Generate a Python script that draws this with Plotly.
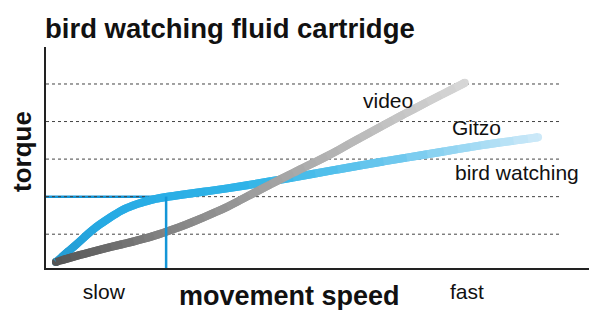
import plotly.graph_objects as go

# ---- data (speed 0..100, torque in grid units) ----
speed_video = [1.8, 6.2, 11.8, 17.8, 22.7, 26.7, 32.9, 38.8, 44.8, 51.0, 57.0, 63.0, 69.2, 76.0]
torque_video = [0.26, 0.45, 0.66, 0.88, 1.11, 1.33, 1.73, 2.18, 2.63, 3.08, 3.56, 4.04, 4.52, 5.03]

speed_bird = [1.8, 5.6, 8.7, 11.8, 14.7, 17.8, 21.8, 32.9, 44.8, 57.0, 69.2, 77.0, 82.4, 89.3]
torque_bird = [0.26, 0.74, 1.14, 1.46, 1.70, 1.86, 1.99, 2.22, 2.51, 2.83, 3.13, 3.32, 3.44, 3.58]

grid_levels = [1, 2, 3, 4, 5]
grid_end_speed = 93.3
tick_vals = [10.5, 76.4]
tick_text = ["slow", "fast"]
ref_speed = 21.8
ref_torque = 2.0

labels = ["video", "Gitzo", "bird watching"]
label_speed = [62.0, 78.2, 85.5]
label_torque = [4.55, 3.83, 2.63]

gray_stops = [(0.0, (85, 85, 85)), (0.25, (128, 128, 128)), (0.58, (168, 168, 168)), (1.0, (215, 215, 215))]
blue_stops = [(0.0, (35, 155, 210)), (0.1, (38, 170, 228)), (0.4, (48, 180, 232)),
              (0.7, (110, 200, 238)), (1.0, (205, 233, 248))]

# page body has an 8px margin: shift the figure so the plot lands where the reference has it
OFF = 8
W, H = 597 - OFF, 310 - OFF
LINE_W = 8


def grad(stops, t):
    t = min(max(t, 0.0), 1.0)
    for (t0, c0), (t1, c1) in zip(stops[:-1], stops[1:]):
        if t <= t1:
            f = 0 if t1 == t0 else (t - t0) / (t1 - t0)
            c = [round(a + (b - a) * f) for a, b in zip(c0, c1)]
            return "rgb(%d,%d,%d)" % tuple(c)
    return "rgb(%d,%d,%d)" % stops[-1][1]


def lerp(a, b, t):
    return (a[0] + (b[0] - a[0]) * t, a[1] + (b[1] - a[1]) * t)


def split(bz, t):
    p0, p1, p2, p3 = bz
    a, b, c = lerp(p0, p1, t), lerp(p1, p2, t), lerp(p2, p3, t)
    d, e = lerp(a, b, t), lerp(b, c, t)
    f = lerp(d, e, t)
    return (p0, a, d, f), (f, e, c, p3)


def curve_pieces(xs, ys, k=3):
    """Catmull-Rom through the data points, as cubic Bezier pieces."""
    P = list(zip(xs, ys))
    n = len(P)
    pieces = []
    for i in range(n - 1):
        p0 = P[i - 1] if i > 0 else P[i]
        p1, p2 = P[i], P[i + 1]
        p3 = P[i + 2] if i + 2 < n else P[i + 1]
        c1 = (p1[0] + (p2[0] - p0[0]) / 6, p1[1] + (p2[1] - p0[1]) / 6)
        c2 = (p2[0] - (p3[0] - p1[0]) / 6, p2[1] - (p3[1] - p1[1]) / 6)
        rest = (p1, c1, c2, p2)
        for j in range(k - 1):
            left, rest = split(rest, 1.0 / (k - j))
            pieces.append(left)
        pieces.append(rest)
    return pieces


def gradient_shapes(xs, ys, stops):
    pieces = curve_pieces(xs, ys)
    x0, x1 = xs[0], xs[-1]
    out = []
    fmt = lambda p: "%.4f,%.4f" % p
    for m, bz in enumerate(pieces):
        path = "M " + fmt(bz[0]) + " C " + " ".join(fmt(p) for p in bz[1:])
        if m + 1 < len(pieces):  # overlap into next piece to hide seams
            nb = pieces[m + 1]
            path += " C " + " ".join(fmt(p) for p in nb[1:])
        t = ((bz[0][0] + bz[3][0]) / 2 - x0) / (x1 - x0)
        out.append(dict(type="path", xref="x", yref="y", path=path,
                        line=dict(color=grad(stops, t), width=LINE_W), layer="above"))
    return out


fig = go.Figure()
# round end caps at the first and last data points
for xs, ys, stops in [(speed_bird, torque_bird, blue_stops), (speed_video, torque_video, gray_stops)]:
    fig.add_trace(go.Scatter(x=[xs[0], xs[-1]], y=[ys[0], ys[-1]], mode="markers",
                             marker=dict(size=LINE_W, color=[grad(stops, 0), grad(stops, 1)]),
                             hoverinfo="skip", showlegend=False))

shapes = []
shapes.append(dict(type="line", xref="x", yref="y", x0=0, x1=ref_speed, y0=ref_torque, y1=ref_torque,
                   line=dict(color="rgb(20,150,215)", width=2.5), layer="below"))
for g in grid_levels:
    shapes.append(dict(type="line", xref="x", yref="y", x0=0, x1=grid_end_speed, y0=g, y1=g,
                       line=dict(color="#444444", width=1, dash="3px,3px"), layer="below"))
shapes += gradient_shapes(speed_bird, torque_bird, blue_stops)
shapes += gradient_shapes(speed_video, torque_video, gray_stops)
shapes.append(dict(type="line", xref="x", yref="y", x0=ref_speed, x1=ref_speed, y0=0.1, y1=ref_torque,
                   line=dict(color="rgb(20,150,215)", width=2.5), layer="above"))

annotations = []
for t, xv, yv in zip(labels, label_speed, label_torque):
    annotations.append(dict(text=t, x=xv, y=yv, xref="x", yref="y", showarrow=False,
                            font=dict(size=21, color="#111111")))
annotations.append(dict(text="<b>movement speed</b>", x=(289 - 46) / 551, y=(268 - 296) / 221,
                        xref="paper", yref="paper", showarrow=False, xanchor="center", yanchor="middle",
                        font=dict(size=27, color="#111111")))
annotations.append(dict(text="<b>torque</b>", x=(22 - 46) / 551, y=(268 - 152) / 221,
                        xref="paper", yref="paper", showarrow=False, xanchor="center", yanchor="middle",
                        textangle=-90, font=dict(size=26, color="#111111")))

fig.update_layout(
    width=W, height=H,
    margin=dict(l=46 - OFF, r=0, t=47 - OFF, b=42, autoexpand=False),
    paper_bgcolor="white", plot_bgcolor="white",
    font=dict(family="Liberation Sans, Arial, sans-serif", color="#111111"),
    title=dict(text="<b>bird watching fluid cartridge</b>", x=(45 - OFF) / W, xanchor="left",
               xref="container", y=1 - (28 - OFF) / H, yref="container", yanchor="middle",
               font=dict(size=27.5, color="#111111"), automargin=False),
    shapes=shapes, annotations=annotations, showlegend=False,
)
fig.update_xaxes(range=[0, 100], showgrid=False, zeroline=False, showline=True, automargin=False,
                 linecolor="#222222", linewidth=2, tickvals=tick_vals, ticktext=tick_text,
                 ticks="", tickfont=dict(size=21, color="#111111"), ticklabelstandoff=4)
fig.update_yaxes(range=[0.1, 5.985], showgrid=False, zeroline=False, showline=True, automargin=False,
                 linecolor="#222222", linewidth=2, showticklabels=False, ticks="")

fig.write_html("out.html")
